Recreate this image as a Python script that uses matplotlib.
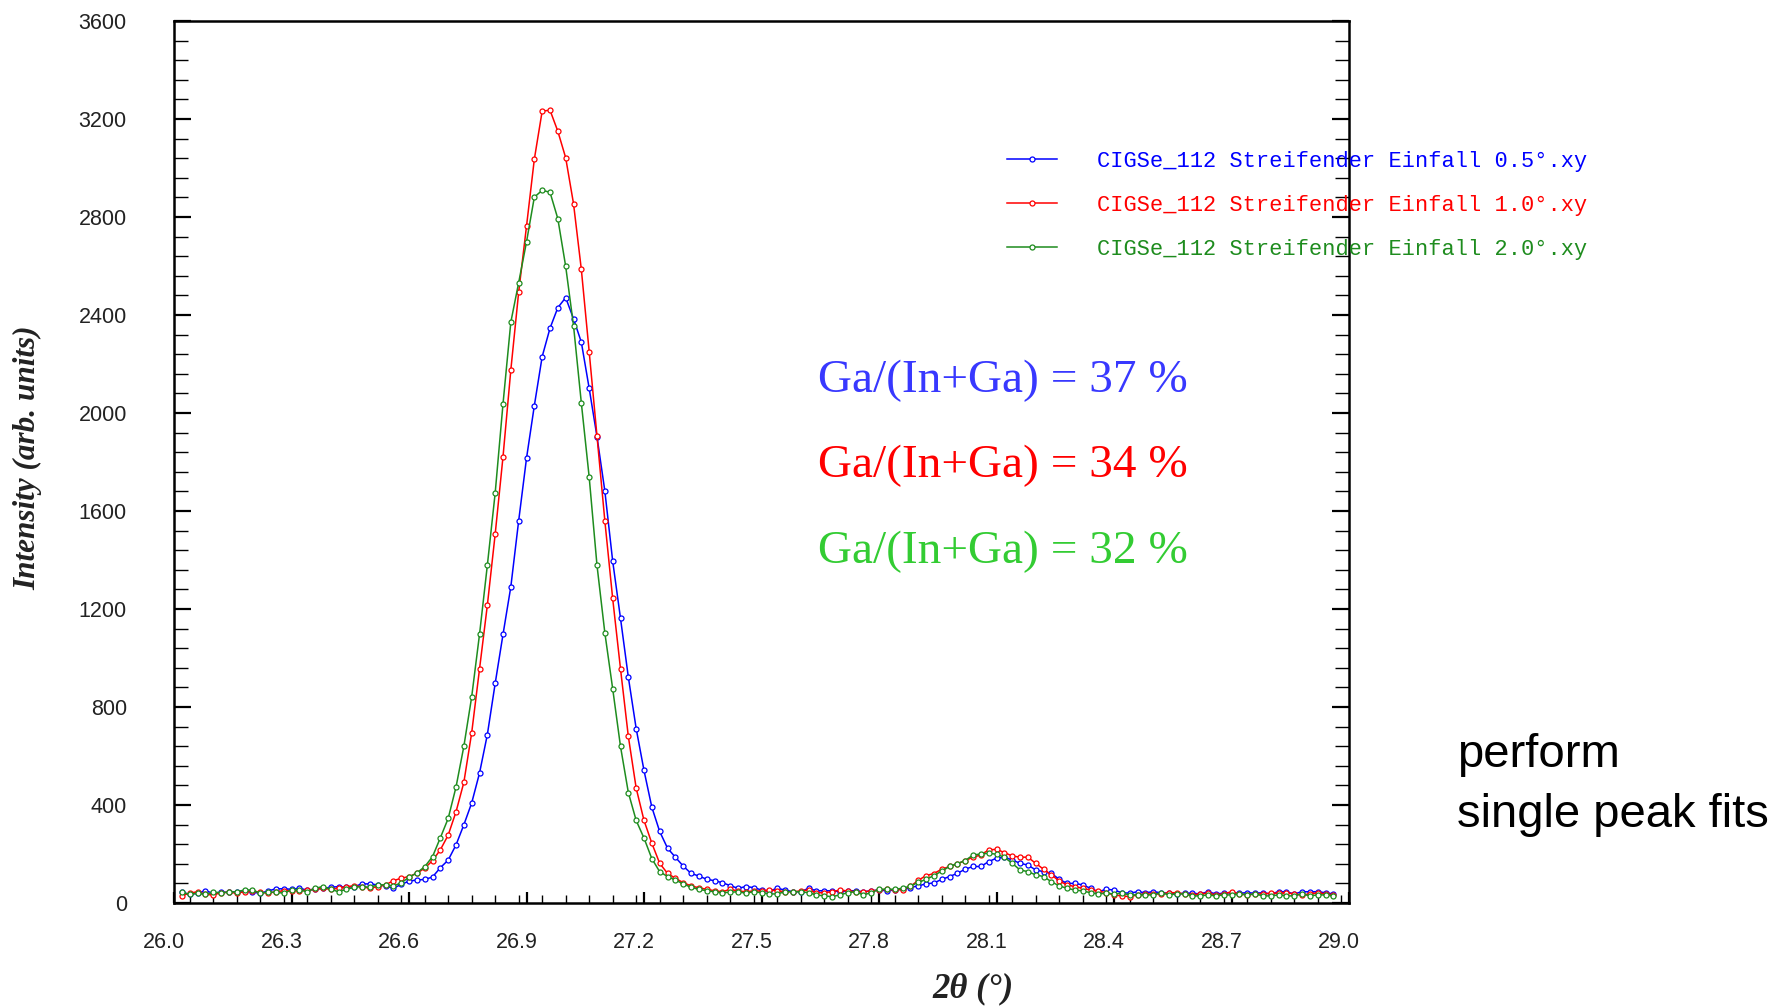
import numpy as np
import matplotlib
matplotlib.use("Agg")
import matplotlib.pyplot as plt
from matplotlib.ticker import FixedLocator, MultipleLocator
from matplotlib.transforms import ScaledTranslation

# ---------------- data ----------------
two_theta = np.round(np.linspace(26.02, 28.96, 148), 2)

intensity_05 = [44, 35, 40, 50, 40, 44, 44, 46, 50, 44, 40, 49, 58, 58, 56, 60, 53, 56, 60, 64, 67, 64, 67, 78, 78, 74, 70, 60,
                76, 89, 94, 96, 106, 144, 175, 237, 319, 408, 530, 687, 896, 1096, 1291, 1560, 1815, 2030, 2230, 2346, 2430, 2471,
                2385, 2289, 2101, 1903, 1682, 1396, 1162, 922, 712, 541, 391, 292, 224, 187, 151, 121, 110, 97, 91, 83,
                71, 60, 67, 63, 53, 49, 60, 53, 46, 46, 60, 50, 50, 50, 46, 50, 50, 46, 50, 53, 50, 53,
                57, 63, 70, 78, 82, 96, 108, 121,
                138, 149, 149, 169, 183, 187, 176, 162, 155, 135, 128, 121, 97, 80, 80, 74, 60, 46, 56, 53, 42, 40, 46, 42,
                46, 42, 40, 37, 40, 40, 37, 46, 37, 40, 42, 40, 42, 40, 42, 37, 46, 46, 37, 46, 46, 46, 42, 37]

intensity_10 = [30, 40, 46, 35, 33, 42, 44, 40, 46, 49, 44, 40, 46, 50, 50, 50, 53, 56, 60, 56, 60, 67, 70, 67, 60, 67, 74, 91,
                101, 108, 121, 142, 173, 217, 277, 372, 492, 694, 956, 1215, 1505, 1821, 2176, 2493, 2762, 3036, 3232, 3236,
                3150, 3042, 2855, 2586, 2251, 1905, 1560, 1243, 956, 680, 469, 337, 244, 162, 121, 101, 83, 70, 62, 56, 50, 46,
                56, 49, 46, 49, 49, 53, 50, 46, 46, 49, 53, 42, 42, 46, 53, 49, 46, 46, 49, 53, 56, 53,
                55, 68, 92, 112, 120, 138, 149, 160,
                173, 187, 196, 217, 219, 206, 192, 187, 187, 162, 138, 115, 90, 74, 67, 60, 53, 49, 42, 33, 29, 26, 33, 37,
                37, 37, 42, 42, 37, 33, 37, 40, 33, 37, 46, 37, 33, 37, 37, 40, 40, 42, 37, 33, 37, 42, 37, 33]

intensity_20 = [44, 35, 40, 35, 44, 42, 44, 46, 53, 53, 40, 44, 44, 40, 53, 53, 46, 60, 67, 56, 46, 56, 64, 67, 64, 74, 74, 70,
                82, 105, 123, 148, 189, 266, 345, 473, 639, 841, 1096, 1378, 1673, 2037, 2371, 2532, 2698, 2881, 2909, 2901,
                2793, 2599, 2357, 2041, 1739, 1378, 1103, 875, 639, 451, 337, 265, 181, 128, 108, 94, 78, 64, 56, 50, 46, 42,
                44, 46, 40, 46, 42, 37, 37, 46, 46, 46, 42, 33, 29, 26, 33, 42, 46, 33, 42, 56, 56, 56,
                60, 69, 84, 96, 112, 130, 149, 161,
                173, 196, 200, 203, 199, 187, 162, 135, 128, 115, 108, 87, 70, 60, 53, 49, 42, 37, 40, 37, 40, 33, 33, 33,
                33, 42, 33, 37, 37, 29, 29, 33, 29, 33, 33, 37, 33, 37, 29, 29, 33, 29, 29, 37, 29, 33, 33, 29]

series_labels = ["CIGSe_112 Streifender Einfall 0.5°.xy",
                 "CIGSe_112 Streifender Einfall 1.0°.xy",
                 "CIGSe_112 Streifender Einfall 2.0°.xy"]
ratio_labels = ["Ga/(In+Ga) = 37 %", "Ga/(In+Ga) = 34 %", "Ga/(In+Ga) = 32 %"]
x_ticks = [26.0, 26.3, 26.6, 26.9, 27.2, 27.5, 27.8, 28.1, 28.4, 28.7, 29.0]
y_ticks = [0, 400, 800, 1200, 1600, 2000, 2400, 2800, 3200, 3600]

line_colors = ["#0000FF", "#FF0000", "#1E8C1E"]
ratio_colors = ["#3838FF", "#FF0000", "#33CC33"]

# ---------------- figure ----------------
W, H = 1784, 1008
fig = plt.figure(figsize=(W / 100, H / 100), dpi=100)
ax = fig.add_axes([174 / W, 1 - 903 / H, 1175 / W, 882 / H])

handles = []
for y, c, lab in zip([intensity_05, intensity_10, intensity_20], line_colors, series_labels):
    h, = ax.plot(two_theta, y, color=c, lw=1.1, marker="o", ms=3.6,
                 mfc="white", mec=c, mew=0.9, label=lab)
    handles.append(h)

ax.set_xlim(26.0, 29.0)
ax.set_ylim(0, 3600)
ax.xaxis.set_major_locator(FixedLocator(x_ticks))
ax.xaxis.set_minor_locator(MultipleLocator(0.06))
ax.yaxis.set_major_locator(FixedLocator(y_ticks))
ax.yaxis.set_minor_locator(MultipleLocator(80))
ax.set_xticklabels([f"{v:.1f}" for v in x_ticks])
ax.set_yticklabels([str(v) for v in y_ticks])

for s in ax.spines.values():
    s.set_linewidth(1.8)

tick_font = "Liberation Sans"
ax.tick_params(axis="x", which="both", direction="in", bottom=True, top=False,
               labelsize=15.5, pad=21, colors="black")
ax.tick_params(axis="x", which="major", length=8, width=1.6)
ax.tick_params(axis="x", which="minor", length=6, width=1.0)
ax.tick_params(axis="y", which="both", direction="in", left=True, right=True,
               labelsize=15.5, pad=34)
ax.tick_params(axis="y", which="major", length=12.5, width=1.6)
ax.tick_params(axis="y", which="minor", length=10, width=1.0)
for lab in ax.get_xticklabels() + ax.get_yticklabels():
    lab.set_fontfamily(tick_font)
    lab.set_color("#222222")

ax.set_ylabel("Intensity (arb. units)", fontfamily="Liberation Serif", fontsize=22.5,
              fontweight="bold", fontstyle="italic", color="#222222")
ax.yaxis.set_label_coords((27.5 - 174) / 1175, (903 - 458) / 882)
ax.yaxis.label.set_va("center")
ax.set_xlabel("2θ (°)", fontfamily="Liberation Serif", fontsize=25,
              fontweight="bold", fontstyle="italic", color="#222222")
ax.xaxis.set_label_coords((973 - 174) / 1175, -(989 - 903) / 882)
ax.xaxis.label.set_va("center")

leg = ax.legend(handles=handles, loc="upper left",
                bbox_to_anchor=(1007 / W, 1 - 151 / H), bbox_transform=fig.transFigure,
                frameon=False, prop={"family": "Liberation Mono", "size": 15.8},
                handlelength=2.3, handletextpad=1.8, labelspacing=1.04,
                borderpad=0, borderaxespad=0, numpoints=1, labelcolor="linecolor")
leg.set_zorder(5)

for txt, c, yb in zip(ratio_labels, ratio_colors, [392, 477, 563]):
    fig.text(818 / W, 1 - yb / H, txt, color=c, fontsize=34,
             fontfamily="Liberation Serif", ha="left", va="baseline")

fig.text(1457 / W, 1 - 767 / H, "perform", fontsize=34, fontfamily="Liberation Sans",
         ha="left", va="baseline", color="black")
fig.text(1457 / W, 1 - 827 / H, "single peak fits", fontsize=34, fontfamily="Liberation Sans",
         ha="left", va="baseline", color="black")

fig.canvas.draw()
shift = ScaledTranslation(-10 / 100, 0, fig.dpi_scale_trans)
for lab in ax.get_xticklabels():
    lab.set_transform(lab.get_transform() + shift)

fig.savefig("out.png", dpi=100, facecolor="white")
